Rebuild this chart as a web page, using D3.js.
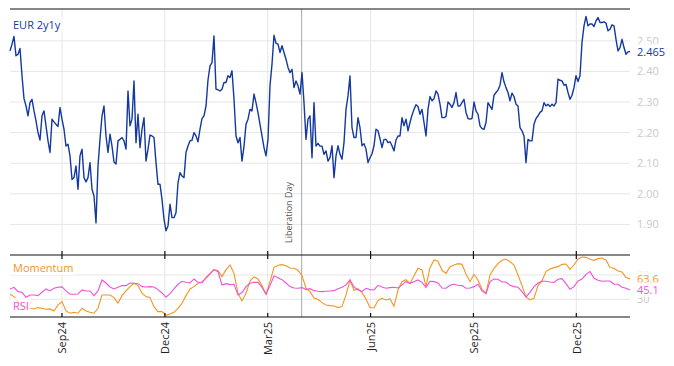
<!DOCTYPE html>
<html>
<head>
<meta charset="utf-8">
<script src="https://cdn.jsdelivr.net/npm/d3@7"></script>
<style>
  body { margin: 0; background: #fff; }
  text { font-family: "Open Sans", sans-serif; }
</style>
</head>
<body>
<svg id="chart" width="674" height="366"></svg>
<script>
// series run evenly from startDate to endDate
const startDate = new Date(2024, 6, 18)
const endDate = new Date(2026, 0, 17, 12)

const eur2y1y = [
  2.467, 2.489, 2.514, 2.451, 2.456, 2.475, 2.386, 2.311, 2.287, 2.255, 2.298, 2.309, 2.271, 2.238, 2.200, 2.176,
  2.255, 2.271, 2.222, 2.173, 2.135, 2.244, 2.235, 2.227, 2.220, 2.282, 2.244, 2.211, 2.156, 2.162, 2.124, 2.047,
  2.053, 2.091, 2.015, 2.124, 2.146, 2.053, 2.039, 2.053, 2.102, 2.015, 1.993, 1.905, 2.091, 2.178, 2.255, 2.287,
  2.189, 2.135, 2.195, 2.156, 2.104, 2.097, 2.173,
  2.178, 2.184, 2.173, 2.146, 2.336, 2.222, 2.244, 2.369, 2.167, 2.260, 2.151, 2.211, 2.249, 2.107, 2.146, 2.192,
  2.189, 2.184, 2.102, 2.031, 2.031, 1.982, 1.917, 1.879, 1.895, 1.966, 1.922, 1.922, 1.938, 2.036, 2.069, 2.058,
  2.053, 2.135, 2.156, 2.173, 2.175, 2.200, 2.189, 2.170, 2.211, 2.246, 2.255, 2.287, 2.372, 2.418, 2.429, 2.516,
  2.342, 2.340, 2.336, 2.342, 2.364,
  2.364, 2.386, 2.380, 2.402, 2.309, 2.189, 2.167, 2.184, 2.107, 2.156, 2.227, 2.244, 2.276, 2.271, 2.326, 2.298,
  2.265, 2.227, 2.189, 2.151, 2.124, 2.178, 2.353, 2.424, 2.518, 2.492, 2.489, 2.462, 2.484, 2.462, 2.440, 2.413,
  2.396, 2.407, 2.347, 2.369, 2.353, 2.326, 2.396, 2.298, 2.178, 2.244, 2.255, 2.118, 2.298, 2.156, 2.165, 2.156,
  2.156, 2.129, 2.140, 2.107, 2.118,
  2.157, 2.053, 2.124, 2.157, 2.129, 2.113, 2.167, 2.276, 2.320, 2.385, 2.216, 2.184, 2.184, 2.249, 2.216, 2.157,
  2.164, 2.146, 2.102, 2.118, 2.131, 2.157, 2.211, 2.206, 2.180, 2.151, 2.178, 2.178, 2.167, 2.170, 2.157, 2.140,
  2.176, 2.189, 2.189, 2.249, 2.222, 2.244, 2.206, 2.233, 2.257, 2.276, 2.291, 2.285, 2.260, 2.276, 2.233, 2.189,
  2.276, 2.318, 2.304, 2.311, 2.336, 2.326,
  2.293, 2.249, 2.249, 2.252, 2.300, 2.293, 2.282, 2.298, 2.331, 2.287, 2.287, 2.298, 2.309, 2.266, 2.246, 2.244,
  2.246, 2.300, 2.271, 2.260, 2.222, 2.213, 2.211, 2.233, 2.298, 2.287, 2.276, 2.322, 2.331, 2.339, 2.355, 2.396,
  2.366, 2.347, 2.331, 2.304, 2.329, 2.318, 2.293, 2.287, 2.216, 2.206, 2.189, 2.102, 2.178, 2.173, 2.173, 2.227,
  2.246, 2.255, 2.266, 2.271, 2.298, 2.287,
  2.293, 2.285, 2.293, 2.287, 2.298, 2.375, 2.371, 2.369, 2.355, 2.358, 2.331, 2.309, 2.322, 2.347, 2.386, 2.367,
  2.386, 2.495, 2.549, 2.580, 2.549, 2.555, 2.555, 2.547, 2.565, 2.576, 2.560, 2.560, 2.562, 2.558, 2.533, 2.538,
  2.552, 2.549, 2.505, 2.467, 2.478, 2.505, 2.478, 2.456, 2.464, 2.465
]

const momentum = [
  38.2, 34.4, 26.2, 20.7, 17.9, 15.2, 14.1, 16.3, 15.2, 13.6, 14.1, 10.8, 20.7, 26.2, 10.8, 7.0, 8.6, 7.0, 15.2,
  10.8, 8.6, 7.0, 15.2, 37.1, 37.1, 37.1, 32.7, 23.4, 36.0, 43.7, 50.8, 56.3, 52.5, 39.9, 34.4, 32.7, 17.9, 9.7,
  9.7, 3.7, 5.9, 8.6, 15.2, 23.4, 36.0, 47.0, 50.8, 56.3, 59.0, 64.5, 71.6, 78.8, 77.1,
  67.3, 78.8, 86.4, 72.7, 39.9, 27.3, 39.9, 60.1, 66.7, 63.4, 52.5, 38.2, 59.0, 82.6, 85.9, 87.0, 85.3, 81.5,
  81.0, 77.7, 68.9, 48.1, 42.6, 32.2, 30.0, 24.5, 20.7, 19.6, 19.0, 16.3, 17.9, 37.1, 61.2, 44.8, 47.5, 41.0,
  30.6, 16.3, 15.7, 27.8, 31.6, 28.9, 30.6, 18.5, 45.3, 59.0, 62.3, 55.7, 68.9, 81.0, 78.2, 50.8,
  82.1, 94.7, 92.5, 77.7, 72.7, 83.7, 86.4, 88.6, 87.5, 71.6, 59.0, 71.1, 61.8, 46.4, 39.9, 70.0, 81.0, 88.6,
  94.1, 96.3, 91.9, 86.4, 70.0, 52.5, 33.8, 28.9, 31.6, 52.5, 60.7, 75.5, 79.9, 82.1, 83.7, 87.5, 88.1, 79.3,
  86.4, 96.3, 99.6, 99.0, 95.8, 94.1, 96.9, 98.0, 94.7, 82.1, 81.0, 76.6, 74.9, 65.6, 63.6
]

const rsi = [
  47.0, 49.7, 42.6, 41.5, 33.3, 37.1, 37.1, 36.0, 41.5, 47.0, 43.7, 48.1, 49.7, 50.3, 43.7, 38.2, 38.2, 38.8,
  45.3, 43.7, 43.7, 36.0, 43.7, 61.8, 56.8, 50.3, 47.0, 49.7, 52.5, 52.5, 56.8, 56.3, 55.7, 50.8, 50.3, 50.8,
  50.3, 45.9, 40.4, 33.3, 39.3, 47.0, 54.7, 59.6, 57.9, 56.8, 63.4, 57.9, 56.8, 66.2, 72.2, 78.8, 75.5,
  53.6, 55.7, 54.1, 54.7, 37.1, 41.0, 50.8, 56.3, 57.9, 57.9, 49.7, 38.2, 52.5, 68.3, 65.6, 62.3, 56.8, 50.8,
  48.6, 48.1, 49.2, 45.9, 47.5, 44.2, 43.1, 42.6, 43.1, 43.7, 44.2, 47.5, 49.7, 53.6, 61.8, 50.3, 45.3, 43.1,
  48.1, 45.9, 45.3, 53.0, 50.3, 48.1, 49.2, 49.7, 48.6, 53.6, 59.0, 56.3, 59.0, 61.8, 57.9, 49.2,
  59.6, 59.0, 56.8, 48.6, 48.1, 53.0, 54.7, 53.0, 52.5, 48.1, 48.6, 50.8, 54.7, 43.7, 39.3, 59.0, 63.4, 62.9,
  58.5, 58.5, 53.0, 50.8, 49.7, 42.6, 33.8, 41.5, 50.8, 56.8, 59.6, 59.6, 58.5, 57.9, 62.9, 64.0, 55.7, 46.4,
  50.8, 60.1, 63.4, 71.1, 75.5, 64.5, 61.2, 59.6, 60.1, 60.1, 54.7, 54.7, 49.7, 48.1, 45.1
]

const tickDates = ["2024-09-02", "2024-12-02", "2025-03-03", "2025-06-02", "2025-09-01", "2025-12-01"]
const tickLabels = ["Sep24", "Dec24", "Mar25", "Jun25", "Sep25", "Dec25"]
const priceTicks = [1.9, 2.0, 2.1, 2.2, 2.3, 2.4, 2.5]
const oscTicks = [30, 70]
const eventDate = "2025-04-02"
const eventLabel = "Liberation Day"

const blue = "#1338a0", orange = "#f7941e", pink = "#ee52da"
const grid = "#e6e6e6", faint = "#c9c9c9"

const left = 10, right = 630
const mainTop = 9, mainBottom = 255, lowBottom = 317

const svg = d3.select("#chart")
const parse = d3.timeParse("%Y-%m-%d")

const x = d3.scaleTime().domain([startDate, endDate]).range([left, right])
const y = d3.scaleLinear().domain([1.8, 2.604]).range([mainBottom, mainTop])
const y2 = d3.scaleLinear().domain([0, 100]).range([317.5, 256.75])

function datesFor(arr) {
  const step = (endDate - startDate) / (arr.length - 1)
  return arr.map((v, i) => ({ date: new Date(+startDate + i * step), value: v }))
}

const ticks = tickDates.map(parse)

// grid
const gridG = svg.append("g")
gridG.selectAll(".hg").data(priceTicks).join("line")
  .attr("x1", left).attr("x2", right)
  .attr("y1", d => y(d)).attr("y2", d => y(d))
  .attr("stroke", grid)
gridG.selectAll(".hg2").data(oscTicks).join("line")
  .attr("x1", left).attr("x2", right)
  .attr("y1", d => y2(d)).attr("y2", d => y2(d))
  .attr("stroke", grid)
gridG.selectAll(".vg").data(ticks).join("line")
  .attr("x1", d => x(d)).attr("x2", d => x(d))
  .attr("y1", mainTop).attr("y2", lowBottom)
  .attr("stroke", grid)

// event marker
const ex = x(parse(eventDate))
svg.append("line")
  .attr("x1", ex).attr("x2", ex).attr("y1", mainTop).attr("y2", lowBottom)
  .attr("stroke", "#a8a8a8")
svg.append("text")
  .attr("transform", `translate(${ex - 10},243) rotate(-90)`)
  .attr("font-size", 9).attr("fill", "#555")
  .text(eventLabel)

// lines
const line = d3.line().x(d => x(d.date)).y(d => y(d.value))
const line2 = d3.line().x(d => x(d.date)).y(d => y2(d.value))

svg.append("path").datum(datesFor(momentum))
  .attr("d", line2).attr("fill", "none").attr("stroke", orange).attr("stroke-width", 1.1)
svg.append("path").datum(datesFor(rsi))
  .attr("d", line2).attr("fill", "none").attr("stroke", pink).attr("stroke-width", 1.1)
svg.append("path").datum(datesFor(eur2y1y))
  .attr("d", line).attr("fill", "none").attr("stroke", blue).attr("stroke-width", 1.4)
  .attr("stroke-linejoin", "round")

// frame
const frame = svg.append("g").attr("stroke", "#111").attr("stroke-width", 1.2)
;[mainTop, mainBottom, lowBottom].forEach(v => {
  frame.append("line").attr("x1", left).attr("x2", right).attr("y1", v).attr("y2", v)
})
frame.selectAll(".t1").data(ticks).join("line")
  .attr("x1", d => x(d)).attr("x2", d => x(d)).attr("y1", mainBottom - 4).attr("y2", mainBottom + 4)
frame.selectAll(".t2").data(ticks).join("line")
  .attr("x1", d => x(d)).attr("x2", d => x(d)).attr("y1", lowBottom - 4).attr("y2", lowBottom)

// axes
svg.append("g").attr("transform", `translate(${right},0)`)
  .call(d3.axisRight(y).tickValues(priceTicks).tickFormat(d3.format(".2f")).tickSize(0).tickPadding(7))
  .call(g => g.select(".domain").remove())
  .selectAll("text").attr("fill", faint).attr("font-size", 11).attr("font-family", "Open Sans")

svg.append("g").attr("transform", `translate(${right},0)`)
  .call(d3.axisRight(y2).tickValues(oscTicks).tickSize(0).tickPadding(7))
  .call(g => g.select(".domain").remove())
  .selectAll("text").attr("fill", faint).attr("font-size", 11).attr("font-family", "Open Sans")

svg.append("g").attr("transform", `translate(0,${lowBottom})`)
  .call(d3.axisBottom(x).tickValues(ticks).tickFormat((d, i) => tickLabels[i]).tickSize(0))
  .call(g => g.select(".domain").remove())
  .selectAll("text")
  .attr("transform", "rotate(-90)")
  .attr("text-anchor", "end")
  .attr("x", -5).attr("y", 0).attr("dy", "0.35em")
  .attr("fill", "#222").attr("font-size", 11).attr("font-family", "Open Sans")

// labels with a soft white box behind
function addLabel(px, py, txt, color) {
  const g = svg.append("g")
  const rect = g.append("rect")
  const t = g.append("text")
    .attr("x", px).attr("y", py)
    .attr("font-size", 11).attr("fill", color)
    .text(txt)
  const b = t.node().getBBox()
  rect.attr("x", b.x - 2).attr("y", b.y).attr("width", b.width + 4).attr("height", b.height)
    .attr("fill", "white").attr("fill-opacity", 0.75)
}

addLabel(13, 29, "EUR 2y1y", blue)
addLabel(13, 272, "Momentum", orange)
addLabel(13, 310, "RSI", pink)

const lastOf = a => a[a.length - 1]
addLabel(637, y(lastOf(eur2y1y)) + 4, d3.format(".3f")(lastOf(eur2y1y)), blue)
addLabel(637, y2(lastOf(momentum)) + 4, d3.format(".1f")(lastOf(momentum)), orange)
addLabel(637, y2(lastOf(rsi)) + 4, d3.format(".1f")(lastOf(rsi)), pink)
</script>
</body>
</html>
